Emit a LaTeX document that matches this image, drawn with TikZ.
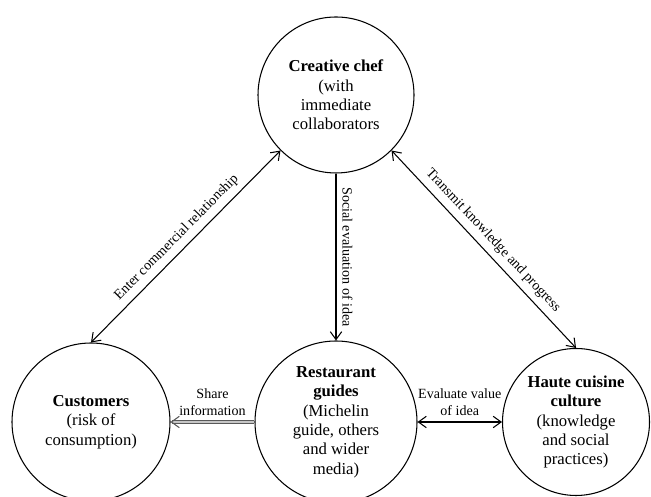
\documentclass[tikz,border=0pt]{standalone}
\usepackage{fontspec}
\setmainfont{Liberation Serif}
\usetikzlibrary{arrows.meta}

\tikzset{
  ball/.style={draw, circle, semithick, minimum size=#1, inner sep=0pt, align=center,
    font=\fontsize{9.5}{11}\selectfont},
  link/.style={semithick, >={Straight Barb[length=4.5pt,width=6.5pt]}},
  tag/.style={font=\fontsize{8}{9.5}\selectfont, align=center},
}

\begin{document}
\begin{tikzpicture}
                \useasboundingbox (0,0) rectangle (13.02,9.94);

                \node[ball=3.12cm] (chef) at (6.72,8.04) {\textbf{Creative chef}\\(with\\immediate\\collaborators}; %上
                \node[ball=3.16cm] (cust) at (1.82,1.50) {\textbf{Customers}\\(risk of\\consumption)}; %左下
                \node[ball=3.24cm] (guide) at (6.72,1.50) {\textbf{Restaurant}\\\textbf{guides}\\(Michelin\\guide, others\\and wider\\media)}; %中下
                \node[ball=2.94cm] (haute) at (11.52,1.50) {\textbf{Haute cuisine}\\\textbf{culture}\\(knowledge\\and social\\practices)}; %右下

                \draw[link,<->] (cust.north) -- (chef.225) node[tag,midway,sloped,above]{Enter commercial relationship};
                \draw[link,->] (chef.south) -- (guide.north) node[tag,midway,sloped,above]{Social evaluation of idea};
                \draw[link,<->] (chef.-45) -- (haute.north) node[tag,midway,sloped,above]{Transmit knowledge and progress};
                \draw[link,->,draw=gray!70!black,double=gray!45,double distance=1pt] (guide.west) -- (cust.east) node[tag,midway,above]{Share\\information};
                \draw[link,<->] (guide.east) -- (haute.west) node[tag,midway,above]{Evaluate value\\of idea};

\end{tikzpicture}
\end{document}
